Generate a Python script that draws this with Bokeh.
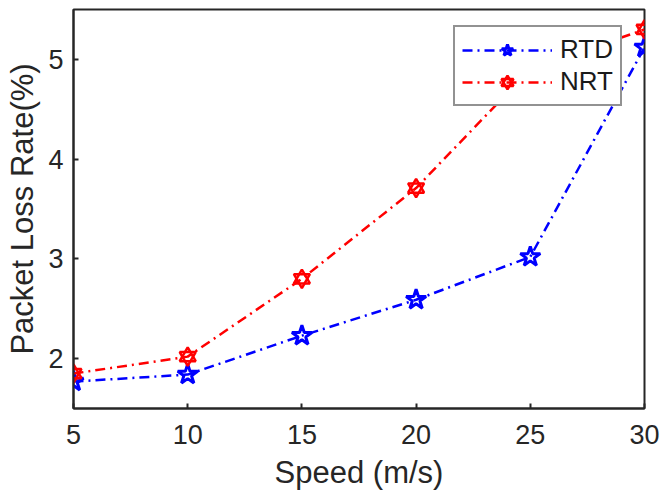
from bokeh.plotting import figure
from bokeh.models import Range1d, FixedTicker, Legend, LegendItem
from bokeh.embed import file_html
from bokeh.resources import INLINE

speed = [5, 10, 15, 20, 25, 30]
rtd = [1.77, 1.84, 2.23, 2.59, 3.02, 5.12]
nrt = [1.85, 2.02, 2.80, 3.71, 4.90, 5.30]
x_ticks = [5, 10, 15, 20, 25, 30]
y_ticks = [2, 3, 4, 5]

FONT = "Liberation Sans"
TXT = "#262626"

p = figure(width=660, height=501, output_backend="svg", toolbar_location=None,
           x_range=Range1d(5, 30), y_range=Range1d(1.5, 5.5),
           min_border_left=73, min_border_top=9, min_border_right=16, min_border_bottom=93)
p.xgrid.visible = False
p.ygrid.visible = False
p.outline_line_color = "#262626"
p.outline_line_width = 2
p.background_fill_color = "white"
p.border_fill_color = "white"

for ax, ticks in ((p.xaxis[0], x_ticks), (p.yaxis[0], y_ticks)):
    ax.ticker = FixedTicker(ticks=ticks)
    ax.minor_tick_line_color = None
    ax.major_tick_in = 5
    ax.major_tick_out = 0
    ax.major_tick_line_width = 2
    ax.major_tick_line_color = "#262626"
    ax.axis_line_color = "#262626"
    ax.axis_line_width = 2
    ax.major_label_text_font = FONT
    ax.major_label_text_font_size = "27px"
    ax.major_label_text_color = TXT
    ax.axis_label_text_font = FONT
    ax.axis_label_text_font_size = "31px"
    ax.axis_label_text_font_style = "normal"
    ax.axis_label_text_color = TXT

p.xaxis.axis_label = "Speed (m/s)"
p.yaxis.axis_label = "Packet Loss Rate(%)"
p.xaxis.major_label_standoff = 16
p.xaxis.axis_label_standoff = 8
p.yaxis.major_label_standoff = 10
p.yaxis.axis_label_standoff = 5

dash = "10 5 2 5"
l1 = p.line(speed, rtd, line_color="blue", line_width=2.5, line_dash=dash)
m1 = p.scatter(speed, rtd, marker="star", size=21, line_color="blue", line_width=3, fill_color=None)
l2 = p.line(speed, nrt, line_color="red", line_width=2.5, line_dash=dash)
m2a = p.scatter(speed, nrt, marker="triangle", size=16, line_color="red", line_width=2.5, fill_color=None)
m2b = p.scatter(speed, nrt, marker="inverted_triangle", size=16, line_color="red", line_width=2.5, fill_color=None)

legend = Legend(items=[LegendItem(label="RTD", renderers=[l1, m1]),
                       LegendItem(label="NRT", renderers=[l2, m2a, m2b])],
                location=(380, 302))
legend.glyph_width = 90
legend.glyph_height = 30
legend.label_height = 30
legend.label_standoff = 8
legend.spacing = 1
legend.padding = 7
legend.margin = 0
legend.label_text_font = FONT
legend.label_text_font_size = "26px"
legend.label_text_color = "#1a1a1a"
legend.border_line_color = "#262626"
legend.border_line_width = 2
legend.background_fill_color = "white"
legend.background_fill_alpha = 1
p.add_layout(legend, "center")

open("out.html", "w").write(file_html(p, INLINE))
